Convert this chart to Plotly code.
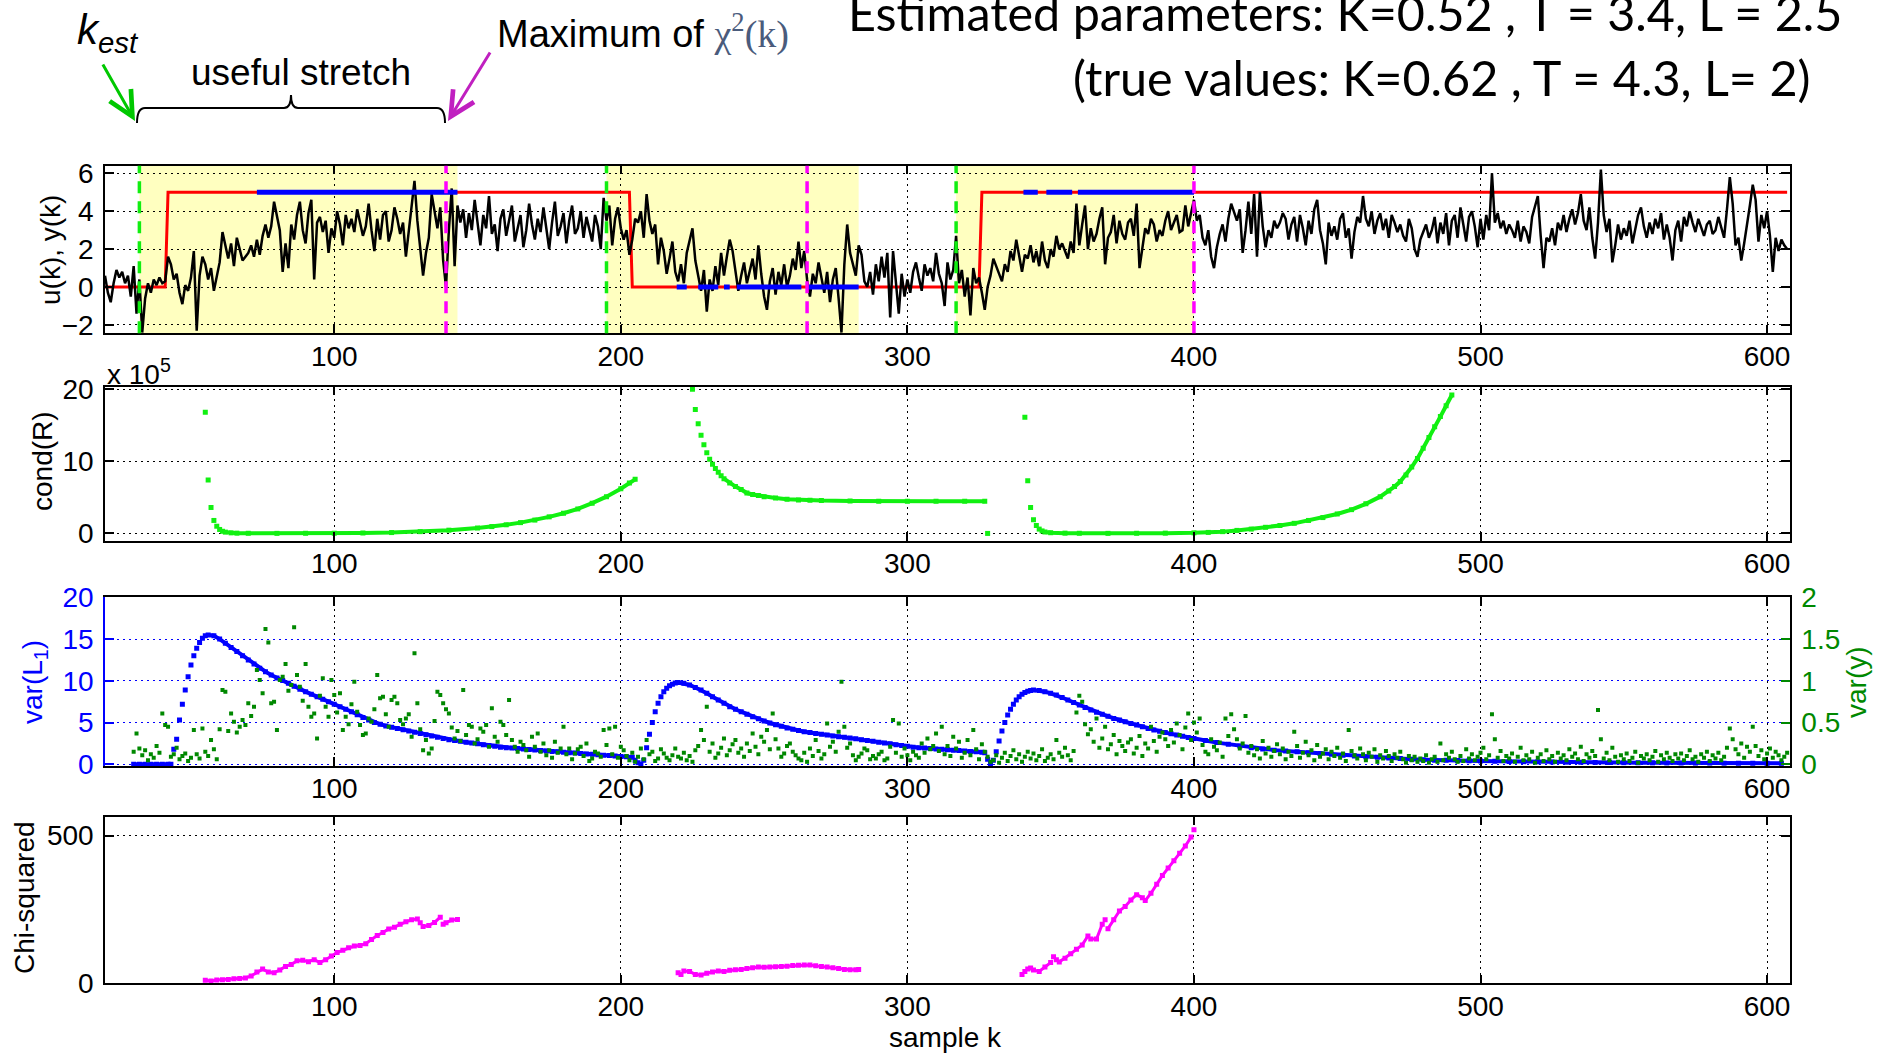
import plotly.graph_objects as go

W, H = 1877, 1054

# ---------------- data ----------------
y_k0 = 20
y_out = [
    0.6, -0.3, -0.8, 0.2, 0.9, 0.5, 0.8, 0.2, 0.6, -0.5,
    1.1, -1.4, 0.4, -2.4, -0.6, 0.2, -0.3, 0.4, 0.1, 0.5,
    0.2, 0.3, 1.6, 1.2, 0.4, 0.7, -0.3, -0.9, 0.1, -0.2,
    0.5, 1.9, -2.3, 0.6, 1.6, 1.2, 0.4, 1.0, -0.2, 0.5,
    1.3, 2.9, 2.2, 1.5, 2.3, 1.1, 2.6, 2.0, 1.4, 1.6,
    1.8, 2.2, 1.6, 2.5, 1.7, 2.7, 3.3, 2.6, 3.2, 4.5,
    3.7, 3.0, 0.8, 2.3, 1.0, 3.3, 2.5, 3.8, 4.5, 3.0,
    2.3, 3.9, 4.6, 0.4, 3.4, 3.7, 2.9, 3.5, 1.8, 3.1,
    2.6, 4.0, 3.3, 2.2, 3.8, 3.1, 3.6, 2.9, 4.1, 3.4,
    2.7, 3.2, 4.4, 3.0, 1.9, 3.6, 2.5, 3.8, 4.0, 2.4,
    3.0, 4.2, 3.6, 2.8, 3.4, 1.6, 3.0, 4.1, 5.6, 3.5,
    2.2, 0.6, 1.8, 2.6, 4.9, 4.0, 3.1, 4.2, 1.4, 0.0,
    3.0, 5.2, 1.1, 4.3, 3.4, 4.1, 2.6, 3.9, 3.0, 4.6,
    3.5, 2.2, 3.8, 3.1, 4.8, 2.8, 3.3, 1.9, 3.6, 4.1,
    2.7, 3.5, 4.3, 2.4, 3.2, 3.8, 2.1, 3.0, 4.4, 3.3,
    2.5, 3.6, 2.9, 4.2, 3.1, 2.0, 3.4, 4.5, 2.7, 3.2,
    3.9, 2.3, 3.5, 4.3, 2.8, 3.1, 4.0, 2.6, 3.7, 3.0,
    2.4, 3.8, 3.2, 2.0, 4.7, 3.5, 4.3, 2.2, 3.6, 4.2,
    3.1, 2.5, 3.0, 1.7, 2.5, 3.6, 3.4, 4.0, 2.6, 4.9,
    3.5, 2.8, 3.3, 1.2, 2.6, 1.9, 0.7, 1.5, 2.4, 0.8,
    0.3, 1.2, 0.2, 1.8, 2.5, 3.1, 1.4, 0.5, -0.2, 0.9,
    -1.3, 0.4, -0.2, 1.1, 0.1, 1.8, 0.6, 1.6, 2.5, 1.9,
    0.8, -0.2, 0.6, 1.3, 0.2, 0.9, 1.5, 0.4, 2.2, 0.7,
    -0.5, -1.2, 0.3, 1.0, -0.4, 0.8, 0.1, 1.2, 0.0, 0.6,
    1.5, 0.9, 2.4, 1.0, 1.9, 0.4, -0.5, 0.7, 0.2, 1.3,
    0.5, -0.3, 0.8, -0.8, 0.4, 1.0, -0.6, -2.4, 1.2, 3.3,
    1.8, 1.2, 0.6, 2.2, 1.7, 0.3, 0.0, 0.8, -0.4, 1.2,
    0.3, 1.6, 0.5, 1.8, -1.6, 1.9, 0.2, -1.4, 0.7, -0.5,
    0.4, -0.3, 0.8, 1.3, 0.5, -0.2, 1.2, 0.6, 1.0, 0.3,
    1.8, 0.7, 0.2, -1.0, 1.3, 0.4, 0.9, 2.7, 0.2, 0.9,
    -0.5, 0.5, -1.5, 1.0, 0.2, 0.5, -0.3, -1.2, 0.0, 0.6,
    1.5, 1.1, 0.8, 0.3, 1.2, 0.8, 1.9, 1.4, 2.5, 1.6,
    0.8, 1.7, 1.5, 2.2, 1.3, 1.9, 1.1, 2.4, 1.4, 1.0,
    2.0, 1.6, 2.7, 2.0, 2.3, 1.9, 1.5, 2.4, 1.8, 4.4,
    2.2, 3.3, 4.3, 2.0, 3.1, 2.4, 2.8, 3.6, 4.2, 1.2,
    2.6, 2.9, 3.8, 2.3, 3.5, 2.8, 2.5, 3.4, 3.6, 2.7,
    4.4, 1.0, 2.2, 3.1, 2.8, 3.6, 3.3, 2.4, 3.0, 2.7,
    3.5, 4.0, 3.0, 3.4, 3.8, 2.9, 3.0, 4.3, 3.2, 3.9,
    4.6, 3.5, 3.8, 2.6, 2.2, 3.0, 1.6, 1.0, 2.1, 2.8,
    3.3, 2.4, 3.6, 4.4, 3.9, 3.5, 4.1, 1.8, 3.0, 4.5,
    2.8, 4.9, 1.6, 5.0, 3.2, 2.1, 3.0, 2.6, 3.5, 3.1,
    3.4, 3.9, 3.6, 2.5, 3.3, 3.7, 2.4, 3.8, 3.1, 2.2,
    3.5, 2.8, 4.1, 4.6, 3.0, 2.3, 1.2, 3.4, 2.7, 3.2,
    2.5, 3.6, 3.9, 2.6, 3.1, 1.5, 2.9, 3.7, 3.4, 4.8,
    3.6, 3.2, 4.0, 2.8, 3.5, 3.9, 3.0, 3.6, 2.6, 3.8,
    3.4, 2.9, 3.3, 2.7, 2.4, 3.6, 3.1, 2.0, 1.6, 2.5,
    2.9, 3.3, 2.6, 3.0, 3.7, 2.3, 3.4, 2.8, 3.9, 2.2,
    3.5, 3.8, 2.6, 4.2, 3.3, 2.4, 3.7, 4.0, 3.2, 2.1,
    3.6, 2.5, 3.8, 3.0, 6.0, 3.4, 3.9, 3.1, 3.5, 2.8,
    3.3, 3.0, 2.6, 3.5, 2.4, 3.2, 2.9, 2.3, 3.7, 4.2,
    4.8, 2.7, 1.0, 2.6, 2.4, 3.1, 2.2, 3.4, 3.0, 3.8,
    2.9, 3.6, 4.1, 3.3, 3.9, 4.9, 3.5, 3.0, 4.2, 2.6,
    1.5, 3.4, 6.2, 3.8, 2.9, 3.6, 1.3, 2.2, 3.3, 2.5,
    3.1, 2.7, 3.5, 2.3, 3.0, 3.8, 4.2, 3.2, 2.6, 3.4,
    2.8, 3.6, 3.1, 3.9, 2.5, 3.3, 2.6, 1.4, 3.0, 3.5,
    2.4, 3.7, 3.2, 4.0, 3.4, 2.9, 3.6, 3.1, 2.7, 3.3,
    3.5, 2.8, 3.0, 3.7, 3.2, 2.6, 4.1, 5.8, 4.4, 2.2,
    2.6, 1.4, 2.3, 3.2, 4.3, 5.4, 4.6, 2.4, 3.8, 3.1,
    4.0, 2.7, 0.8, 2.6, 1.9, 2.5, 2.2, 2.0,
]

u_k = [20, 41, 42, 203, 204, 325, 326, 607]
u_v = [0, 0, 5, 5, 0, 0, 5, 5]

est_start = [73, 219.5, 227, 236, 240.5, 265.5, 340.5, 348.5, 359.5]
est_end = [143, 223, 234, 238, 263, 283, 345.5, 357.5, 400]
est_level = [5, 0, 0, 0, 0, 0, 5, 5, 5]

shade_start = [32, 195, 317]
shade_end = [143, 283, 400]
k_est = [32, 195, 317]
k_chimax = [139, 265, 400]

# cond(R), units of 1e5
cond_k_a = [55, 56, 57, 58, 59, 60, 61, 62, 64, 66, 70, 80, 90, 100, 110, 120, 130, 140, 150, 155,
            160, 165, 170, 175, 180, 185, 190, 195, 200, 203, 205]
cond_v_a = [16.8, 7.4, 3.6, 1.8, 1.0, 0.55, 0.3, 0.18, 0.08, 0.04, 0.02, 0.01, 0.02, 0.03, 0.06, 0.12,
            0.25, 0.45, 0.75, 0.95, 1.2, 1.5, 1.85, 2.3, 2.8, 3.4, 4.2, 5.1, 6.2, 7.0, 7.5]
cond_k_b = [225, 226, 227, 228, 229, 230, 231, 232, 233, 234, 235, 236, 238, 240, 242, 244, 246, 248,
            250, 254, 258, 262, 266, 270, 280, 290, 300, 310, 320, 327]
cond_v_b = [20.0, 17.2, 15.2, 13.6, 12.3, 11.2, 10.3, 9.6, 9.0, 8.5, 8.0, 7.6, 7.0, 6.5, 6.1, 5.6, 5.4,
            5.25, 5.1, 4.9, 4.75, 4.65, 4.6, 4.55, 4.5, 4.45, 4.45, 4.45, 4.45, 4.45]
cond_k_c = [328]
cond_v_c = [0.0]
cond_k_d = [341, 342, 343, 344, 345, 346, 347, 348, 350, 355, 360, 370, 380, 390, 400, 405, 410, 415,
            420, 425, 430, 435, 440, 445, 450, 455, 460, 465, 468, 470, 472, 474, 476, 478, 480, 482,
            484, 486, 488, 490]
cond_v_d = [16.1, 7.3, 3.6, 1.9, 1.1, 0.6, 0.35, 0.2, 0.1, 0.04, 0.02, 0.01, 0.02, 0.04, 0.08, 0.14,
            0.25, 0.42, 0.6, 0.85, 1.1, 1.4, 1.8, 2.2, 2.7, 3.3, 4.1, 5.1, 5.9, 6.5, 7.2, 8.1, 9.2,
            10.4, 11.8, 13.3, 14.8, 16.2, 17.7, 19.2]

# var(L1)
varL_k = [30, 32, 34, 36, 38, 40, 42, 43, 44, 45,
          46, 47, 48, 49, 50, 51, 52, 53, 54, 55,
          56, 58, 60, 62, 64, 66, 68, 70, 72, 74,
          76, 78, 80, 82, 84, 86, 88, 90, 92, 94,
          96, 98, 100, 102, 104, 106, 108, 110, 112, 114,
          116, 118, 120, 122, 124, 126, 128, 130, 132, 134,
          136, 138, 140, 142, 144, 146, 148, 150, 152, 154,
          156, 158, 160, 162, 164, 166, 168, 170, 172, 174,
          176, 178, 180, 182, 184, 186, 188, 190, 192, 194,
          196, 198, 200, 202, 204, 205, 206, 207, 208, 209,
          210, 211, 212, 213, 214, 215, 216, 217, 218, 219,
          220, 222, 224, 226, 228, 230, 232, 234, 236, 238,
          240, 242, 244, 246, 248, 250, 252, 254, 256, 258,
          260, 262, 264, 266, 268, 270, 272, 274, 276, 278,
          280, 282, 284, 286, 288, 290, 292, 294, 296, 298,
          300, 302, 304, 306, 308, 310, 312, 314, 316, 318,
          320, 322, 324, 326, 327, 328, 329, 330, 331, 332,
          333, 334, 335, 336, 337, 338, 339, 340, 341, 342,
          343, 344, 346, 348, 350, 352, 354, 356, 358, 360,
          362, 364, 366, 368, 370, 372, 374, 376, 378, 380,
          382, 384, 386, 388, 390, 392, 394, 396, 398, 400,
          404, 408, 412, 416, 420, 424, 428, 432, 436, 440,
          444, 448, 452, 456, 460, 464, 468, 472, 476, 480,
          484, 488, 492, 496, 500, 505, 510, 515, 520, 525,
          530, 535, 540, 545, 550, 555, 560, 565, 570, 575,
          580, 585, 590, 595, 600, 605]
varL_v = [0, 0, 0, 0, 0, 0, 0, 0, 1.8, 3.0,
          5.3, 7.2, 8.9, 10.5, 11.9, 13.0, 13.9, 14.6, 15.1, 15.4,
          15.5, 15.4, 15.0, 14.5, 14.0, 13.5, 13.0, 12.5, 12.0, 11.5,
          11.1, 10.7, 10.35, 10.05, 9.7, 9.35, 9.0, 8.7, 8.4, 8.1,
          7.8, 7.5, 7.2, 6.9, 6.6, 6.3, 5.95, 5.6, 5.3, 5.0,
          4.8, 4.6, 4.45, 4.3, 4.15, 4.0, 3.85, 3.7, 3.55, 3.4,
          3.25, 3.1, 2.95, 2.85, 2.75, 2.65, 2.55, 2.45, 2.35, 2.25,
          2.15, 2.05, 2.0, 1.95, 1.9, 1.85, 1.78, 1.72, 1.66, 1.6,
          1.55, 1.5, 1.45, 1.4, 1.35, 1.3, 1.25, 1.2, 1.15, 1.1,
          1.05, 1.0, 0.95, 0.9, 0.85, 0.5, 0.2, 0.0, 0.5, 2.0,
          3.6, 5.0, 6.3, 7.3, 8.1, 8.7, 9.1, 9.4, 9.6, 9.75,
          9.8, 9.7, 9.5, 9.2, 8.9, 8.5, 8.1, 7.7, 7.3, 6.9,
          6.6, 6.3, 6.0, 5.7, 5.45, 5.2, 4.95, 4.75, 4.55, 4.35,
          4.2, 4.05, 3.9, 3.8, 3.7, 3.6, 3.5, 3.4, 3.3, 3.25,
          3.15, 3.05, 2.95, 2.85, 2.75, 2.65, 2.55, 2.45, 2.35, 2.25,
          2.15, 2.05, 2.0, 1.95, 1.9, 1.85, 1.8, 1.75, 1.7, 1.65,
          1.6, 1.55, 1.5, 1.45, 1.4, 0.6, 0.1, 0.5, 1.5, 2.8,
          4.0, 5.0, 5.9, 6.6, 7.2, 7.7, 8.1, 8.4, 8.6, 8.75,
          8.85, 8.9, 8.85, 8.7, 8.5, 8.3, 8.0, 7.7, 7.4, 7.1,
          6.8, 6.5, 6.25, 6.0, 5.75, 5.5, 5.3, 5.1, 4.9, 4.7,
          4.5, 4.3, 4.1, 3.95, 3.8, 3.65, 3.5, 3.35, 3.2, 3.1,
          2.85, 2.6, 2.4, 2.2, 2.0, 1.85, 1.7, 1.6, 1.5, 1.4,
          1.3, 1.2, 1.1, 1.0, 0.9, 0.85, 0.75, 0.7, 0.6, 0.55,
          0.5, 0.48, 0.45, 0.42, 0.4, 0.37, 0.34, 0.32, 0.3, 0.28,
          0.26, 0.25, 0.23, 0.22, 0.2, 0.19, 0.18, 0.17, 0.16, 0.15,
          0.15, 0.14, 0.13, 0.13, 0.12, 0.12]

# var(y), one value per sample from k = 30
vary_k0 = 30
var_y = [
    0.15, 0.37, 0.19, 0.11, 0.17, 0.05, 0.12, 0.08, 0.22, 0.14,
    0.61, 0.47, 0.45, 0.09, 0.12, 0.20, 0.06, 0.10, 0.13, 0.04,
    0.08, 0.41, 0.12, 0.07, 0.43, 0.15, 0.10, 0.29, 0.18, 0.06,
    0.42, 0.89, 0.87, 0.40, 0.61, 0.51, 0.38, 0.45, 0.53, 0.47,
    0.73, 0.58, 0.69, 1.13, 1.01, 0.85, 1.62, 1.46, 0.73, 0.75,
    0.41, 1.01, 1.05, 1.20, 0.88, 0.95, 1.64, 1.07, 0.93, 0.76,
    1.20, 0.69, 0.57, 0.61, 0.31, 0.82, 1.03, 0.69, 0.57, 1.01,
    0.83, 0.62, 0.85, 0.41, 0.57, 0.48, 0.72, 0.99, 0.63, 0.47,
    0.35, 0.37, 0.55, 0.51, 0.66, 1.07, 0.79, 0.81, 0.60, 0.45,
    0.77, 0.81, 0.73, 0.53, 0.48, 0.55, 0.60, 0.33, 1.33, 0.73,
    0.42, 0.17, 0.29, 0.13, 0.19, 0.52, 0.87, 0.83, 0.73, 0.66,
    0.61, 0.44, 0.31, 0.40, 0.28, 0.89, 0.35, 0.47, 0.45, 0.25,
    0.30, 0.43, 0.39, 0.47, 0.21, 0.67, 0.33, 0.27, 0.51, 0.47,
    0.35, 0.77, 0.29, 0.21, 0.15, 0.27, 0.23, 0.17, 0.09, 0.33,
    0.21, 0.37, 0.15, 0.25, 0.11, 0.17, 0.08, 0.27, 0.14, 0.19,
    0.45, 0.12, 0.19, 0.06, 0.13, 0.18, 0.21, 0.10, 0.25, 0.04,
    0.07, 0.15, 0.13, 0.09, 0.41, 0.23, 0.43, 0.12, 0.45, 0.08,
    0.21, 0.17, 0.10, 0.05, 0.14, 0.03, 0.09, 0.19, 0.06, 0.29,
    0.12, 0.15, 0.04, 0.07, 0.18, 0.13, 0.08, 0.05, 0.11, 0.19,
    0.09, 0.07, 0.14, 0.05, 0.10, 0.03, 0.17, 0.22, 0.41, 0.29,
    0.69, 0.15, 0.25, 0.08, 0.13, 0.20, 0.31, 0.11, 0.17, 0.24,
    0.29, 0.14, 0.19, 0.09, 0.25, 0.16, 0.37, 0.21, 0.12, 0.33,
    0.27, 0.41, 0.18, 0.61, 0.30, 0.19, 0.09, 0.13, 0.22, 0.25,
    0.15, 0.11, 0.07, 0.05, 0.14, 0.03, 0.19, 0.10, 0.29, 0.16,
    0.07, 0.12, 0.49, 0.21, 0.27, 0.15, 0.39, 0.99, 0.45, 0.20,
    0.25, 0.11, 0.05, 0.09, 0.13, 0.19, 0.17, 0.06, 0.10, 0.07,
    0.12, 0.15, 0.05, 0.07, 0.21, 0.53, 0.14, 0.49, 0.09, 0.19,
    0.11, 0.05, 0.15, 0.11, 0.08, 0.25, 0.14, 0.31, 0.18, 0.22,
    0.37, 0.16, 0.45, 0.12, 0.22, 0.10, 0.33, 0.19, 0.27, 0.08,
    0.14, 0.29, 0.11, 0.41, 0.18, 0.06, 0.24, 0.15, 0.09, 0.03,
    0.05, 0.11, 0.02, 0.08, 0.14, 0.04, 0.10, 0.17, 0.06, 0.12,
    0.03, 0.09, 0.15, 0.07, 0.13, 0.05, 0.10, 0.18, 0.04, 0.08,
    0.12, 0.06, 0.29, 0.14, 0.09, 0.20, 0.11, 0.05, 0.16, 0.62,
    0.82, 0.75, 0.48, 0.36, 0.42, 0.27, 0.55, 0.20, 0.31, 0.45,
    0.18, 0.24, 0.35, 0.12, 0.28, 0.22, 0.16, 0.26, 0.30, 0.13,
    0.20, 0.34, 0.10, 0.25, 0.19, 0.45, 0.28, 0.15, 0.33, 0.38,
    0.30, 0.22, 0.41, 0.26, 0.49, 0.35, 0.18, 0.44, 0.61, 0.29,
    0.50, 0.38, 0.55, 0.23, 0.15, 0.12, 0.30, 0.21, 0.17, 0.26,
    0.09, 0.55, 0.34, 0.60, 0.42, 0.30, 0.19, 0.25, 0.58, 0.14,
    0.22, 0.11, 0.18, 0.07, 0.28, 0.13, 0.20, 0.09, 0.16, 0.24,
    0.12, 0.19, 0.06, 0.15, 0.10, 0.39, 0.22, 0.08, 0.14, 0.27,
    0.11, 0.17, 0.05, 0.23, 0.09, 0.13, 0.18, 0.06, 0.15, 0.10,
    0.20, 0.08, 0.13, 0.04, 0.41, 0.16, 0.11, 0.07, 0.19, 0.12,
    0.05, 0.14, 0.09, 0.18, 0.03, 0.11, 0.07, 0.16, 0.10, 0.04,
    0.12, 0.08, 0.15, 0.06, 0.02, 0.10, 0.05, 0.09, 0.03, 0.07,
    0.04, 0.11, 0.02, 0.06, 0.09, 0.03, 0.25, 0.05, 0.12, 0.08,
    0.15, 0.06, 0.03, 0.10, 0.04, 0.18, 0.07, 0.12, 0.05, 0.09,
    0.14, 0.20, 0.06, 0.11, 0.60, 0.30, 0.08, 0.16, 0.04, 0.10,
    0.07, 0.13, 0.03, 0.09, 0.20, 0.05, 0.11, 0.06, 0.15, 0.02,
    0.08, 0.12, 0.04, 0.17, 0.06, 0.10, 0.03, 0.14, 0.07, 0.11,
    0.05, 0.18, 0.09, 0.13, 0.06, 0.21, 0.04, 0.12, 0.08, 0.16,
    0.10, 0.65, 0.30, 0.07, 0.14, 0.05, 0.20, 0.09, 0.03, 0.11,
    0.06, 0.13, 0.04, 0.08, 0.15, 0.02, 0.10, 0.07, 0.12, 0.05,
    0.09, 0.16, 0.03, 0.11, 0.06, 0.14, 0.08, 0.04, 0.12, 0.07,
    0.13, 0.05, 0.10, 0.17, 0.06, 0.09, 0.03, 0.12, 0.08, 0.15,
    0.04, 0.11, 0.07, 0.14, 0.05, 0.09, 0.20, 0.43, 0.30, 0.18,
    0.12, 0.25, 0.08, 0.21, 0.15, 0.45, 0.22, 0.10, 0.17, 0.06,
    0.13, 0.19, 0.08, 0.15, 0.11, 0.05, 0.09, 0.14,
]

# Chi-squared
chi_k_a = [55, 57, 59, 61, 63, 65, 67, 69, 71, 73, 75, 77, 79, 81, 83, 85, 87, 89, 91, 93, 95, 97, 99,
           101, 103, 105, 107, 109, 111, 113, 115, 117, 119, 121, 123, 125, 127, 129, 130, 131, 133,
           135, 137, 138, 139, 141, 143]
chi_v_a = [10, 8, 11, 12, 13, 15, 16, 18, 25, 38, 48, 38, 36, 45, 57, 64, 76, 78, 73, 80, 70, 80, 92,
           104, 112, 120, 126, 128, 134, 148, 162, 172, 184, 190, 200, 208, 215, 218, 205, 192, 196,
           206, 224, 200, 205, 214, 216]
chi_k_b = [220, 221, 222, 224, 226, 228, 230, 232, 234, 236, 238, 240, 242, 244, 246, 248, 250, 252,
           254, 256, 258, 260, 262, 264, 266, 268, 270, 272, 274, 276, 278, 280, 282, 283]
chi_v_b = [36, 30, 42, 40, 30, 28, 34, 38, 42, 40, 44, 46, 47, 50, 53, 55, 54, 55, 56, 57, 58, 60, 61,
           62, 62, 59, 57, 55, 53, 50, 47, 46, 46, 47]
chi_k_c = [340, 341, 342, 343, 344, 346, 348, 350, 351, 352, 353, 355, 357, 359, 361, 363, 364, 366,
           368, 369, 370, 372, 374, 376, 378, 380, 382, 383, 385, 387, 389, 391, 393, 395, 397, 399, 400]
chi_v_c = [30, 40, 48, 52, 45, 40, 55, 70, 90, 80, 72, 85, 100, 115, 130, 160, 150, 150, 200, 215, 185,
           215, 245, 260, 282, 300, 290, 280, 305, 335, 365, 390, 415, 440, 465, 495, 520]

x_ticks = [100, 200, 300, 400, 500, 600]

# ---------------- helpers ----------------
def bridges(ks, vs):
    """Connect neighbouring points that are more than one sample apart."""
    xs, ys = [], []
    last = None
    for i in range(len(ks) - 1):
        if ks[i + 1] - ks[i] >= 2:
            if last != i:
                if xs:
                    xs.append(None)
                    ys.append(None)
                xs.append(ks[i])
                ys.append(vs[i])
            xs.append(ks[i + 1])
            ys.append(vs[i + 1])
            last = i + 1
    return xs, ys


def px(x):
    return x / W


def py(y):
    return 1 - y / H


TF = "Liberation Sans, Arial, sans-serif"
BLACK = "black"
RED = "#FF0000"
BLUE = "#0000FF"
MAG = "#FF00FF"
LGREEN = "#11F011"
DGREEN = "#008800"

fig = go.Figure()

# ---- panel 1 ----
y_k = list(range(y_k0, y_k0 + len(y_out)))
fig.add_trace(go.Scatter(x=u_k, y=u_v, mode="lines", line=dict(color=RED, width=3),
                         xaxis="x", yaxis="y", hoverinfo="skip"))
fig.add_trace(go.Scatter(x=y_k, y=y_out, mode="lines", line=dict(color=BLACK, width=2.5),
                         xaxis="x", yaxis="y", hoverinfo="skip"))
ex, ey = [], []
for s, e, lv in zip(est_start, est_end, est_level):
    ex += [s, e, None]
    ey += [lv, lv, None]
fig.add_trace(go.Scatter(x=ex, y=ey, mode="lines", line=dict(color=BLUE, width=5),
                         xaxis="x", yaxis="y", hoverinfo="skip"))

# ---- panel 2 ----
for ks, vs in [(cond_k_a, cond_v_a), (cond_k_b, cond_v_b), (cond_k_c, cond_v_c), (cond_k_d, cond_v_d)]:
    bx, by = bridges(ks, vs)
    if bx:
        fig.add_trace(go.Scatter(x=bx, y=by, mode="lines", line=dict(color=LGREEN, width=4),
                                 xaxis="x2", yaxis="y2", hoverinfo="skip"))
    fig.add_trace(go.Scatter(x=ks, y=vs, mode="markers",
                             marker=dict(color=LGREEN, size=5, symbol="square"),
                             xaxis="x2", yaxis="y2", hoverinfo="skip"))

# ---- panel 3 ----
vary_k = list(range(vary_k0, vary_k0 + len(var_y)))
fig.add_trace(go.Scatter(x=vary_k, y=var_y, mode="markers",
                         marker=dict(color=DGREEN, size=4, symbol="square"),
                         xaxis="x3", yaxis="y5", hoverinfo="skip"))
bx, by = bridges(varL_k, varL_v)
fig.add_trace(go.Scatter(x=bx, y=by, mode="lines", line=dict(color=BLUE, width=4),
                         xaxis="x3", yaxis="y3", hoverinfo="skip"))
fig.add_trace(go.Scatter(x=varL_k, y=varL_v, mode="markers",
                         marker=dict(color=BLUE, size=5, symbol="square"),
                         xaxis="x3", yaxis="y3", hoverinfo="skip"))

# ---- panel 4 ----
for ks, vs in [(chi_k_a, chi_v_a), (chi_k_b, chi_v_b), (chi_k_c, chi_v_c)]:
    bx, by = bridges(ks, vs)
    fig.add_trace(go.Scatter(x=bx, y=by, mode="lines", line=dict(color=MAG, width=3),
                             xaxis="x4", yaxis="y4", hoverinfo="skip"))
    fig.add_trace(go.Scatter(x=ks, y=vs, mode="markers",
                             marker=dict(color=MAG, size=5, symbol="square"),
                             xaxis="x4", yaxis="y4", hoverinfo="skip"))

# ---------------- axes ----------------
XD = [px(105), px(1790)]
panels = [(165.7, 333.3), (386.7, 541.0), (597.3, 766.0), (816.7, 983.3)]


def xaxis(i):
    return dict(domain=XD, anchor="y" if i == 1 else f"y{i}", range=[20, 608],
                tickvals=x_ticks, showgrid=True, gridcolor="black", griddash="2px,4px",
                gridwidth=1, showline=True, linecolor="black", linewidth=1.5, mirror="ticks",
                ticks="inside", ticklen=9, tickwidth=1.5, tickcolor="black",
                tickfont=dict(family=TF, size=28, color="black"), zeroline=False,
                ticklabelstandoff=-3, automargin=False)


def yaxis(i, rng, tv, color="black", gridcolor="black", mirror="ticks"):
    top, bot = panels[i - 1]
    return dict(domain=[py(bot), py(top)], anchor="x" if i == 1 else f"x{i}", range=rng,
                tickvals=tv, showgrid=True, gridcolor=gridcolor, griddash="2px,4px", gridwidth=1,
                showline=True, linecolor=color, linewidth=1.5, mirror=mirror, ticks="inside",
                ticklen=9, tickwidth=1.5, tickcolor=color,
                tickfont=dict(family=TF, size=28, color=color), zeroline=False,
                ticklabelstandoff=4, automargin=False)


layout = dict(
    width=W, height=H, margin=dict(l=0, r=0, t=0, b=0, pad=0, autoexpand=False),
    paper_bgcolor="white", plot_bgcolor="white", showlegend=False,
    xaxis=xaxis(1), xaxis2=xaxis(2), xaxis3=xaxis(3), xaxis4=xaxis(4),
    yaxis=yaxis(1, [-2.44, 6.4], [-2, 0, 2, 4, 6]),
    yaxis2=yaxis(2, [-1.05, 20.35], [0, 10, 20]),
    yaxis3=yaxis(3, [-0.2, 20], [0, 5, 10, 15, 20], color=BLUE, gridcolor=BLUE, mirror=False),
    yaxis4=yaxis(4, [0, 564], [0, 500]),
)
top3, bot3 = panels[2]
layout["yaxis5"] = dict(domain=[py(bot3), py(top3)], anchor="x3", overlaying="y3", side="right",
                        range=[-0.02, 2.0], tickvals=[0, 0.5, 1, 1.5, 2],
                        ticktext=["0", "0.5", "1", "1.5", "2"],
                        showgrid=False, showline=True, linecolor="black", linewidth=1.5,
                        ticks="inside", ticklen=9, tickwidth=1.5, tickcolor=DGREEN,
                        tickfont=dict(family=TF, size=28, color=DGREEN), zeroline=False,
                        ticklabelstandoff=4, automargin=False)
fig.update_layout(**layout)

# ---------------- shapes ----------------
shapes = []
for s, e in zip(shade_start, shade_end):
    shapes.append(dict(type="rect", xref="x", yref="y domain", x0=s, x1=e, y0=0, y1=1,
                       fillcolor="#FFFFC0", line=dict(width=0), layer="below"))
for k in k_est:
    shapes.append(dict(type="line", xref="x", yref="y domain", x0=k, x1=k, y0=0, y1=1,
                       line=dict(color="#11EE11", width=3.5, dash="12px,8px"), layer="above"))
for k in k_chimax:
    shapes.append(dict(type="line", xref="x", yref="y domain", x0=k, x1=k, y0=0, y1=1,
                       line=dict(color=MAG, width=3.5, dash="12px,8px"), layer="above"))
# curly brace over the useful stretch
bl, br, bt, bb, bc, bcu = 137, 445, 108, 123, 291, 95
brace = (f"M {px(bl)},{py(bb)} Q {px(bl)},{py(bt)} {px(bl + 8)},{py(bt)} "
         f"L {px(bc - 7)},{py(bt)} Q {px(bc)},{py(bt)} {px(bc)},{py(bcu)} "
         f"Q {px(bc)},{py(bt)} {px(bc + 7)},{py(bt)} "
         f"L {px(br - 8)},{py(bt)} Q {px(br)},{py(bt)} {px(br)},{py(bb)}")
shapes.append(dict(type="path", xref="paper", yref="paper", path=brace,
                   line=dict(color="black", width=2)))
fig.update_layout(shapes=shapes)

# ---------------- annotations ----------------
ann = []


def text(x, y, t, size=28, color="black", angle=0, xanchor="center", yanchor="middle", family=TF):
    ann.append(dict(x=px(x), y=py(y), xref="paper", yref="paper", text=t, showarrow=False,
                    textangle=angle, xanchor=xanchor, yanchor=yanchor,
                    font=dict(family=family, size=size, color=color)))


text(50, 250, "u(k), y(k)", angle=-90)
text(42, 461, "cond(R)", angle=-90)
text(34, 682, "var(L<sub>1</sub>)", angle=-90, color=BLUE)
text(1856, 682, "var(y)", angle=-90, color=DGREEN)
text(24, 898, "Chi-squared", angle=-90)
text(946, 1037, "sample k")
text(105, 372, "x 10<sup>5</sup>", xanchor="left")

text(108, 32, "<i>k<sub>est</sub></i>", size=42)
text(301, 72, "useful stretch", size=37)
text(643, 31, "Maximum of <span style='font-family:Liberation Serif;color:#4a5b7c'>χ<sup>2</sup>(k)</span>",
     size=38)
text(1345, 12, "Estimated parameters: K=0.52 , T = 3.4, L = 2.5", size=48.5,
     family="Lato, Open Sans, sans-serif")
text(1442, 77, "(true values: K=0.62 , T = 4.3, L= 2)", size=48.5,
     family="Lato, Open Sans, sans-serif")

ann.append(dict(x=px(135), y=py(121), xref="paper", yref="paper", ax=-33, ay=-58, text="",
                showarrow=True, arrowhead=5, arrowsize=1.6, arrowwidth=3, arrowcolor="#00C800"))
ann.append(dict(x=px(448), y=py(121), xref="paper", yref="paper", ax=43, ay=-70, text="",
                showarrow=True, arrowhead=5, arrowsize=1.6, arrowwidth=3, arrowcolor="#C020C0"))
fig.update_layout(annotations=ann)

fig.write_html("out.html", config={"displayModeBar": False},
               post_script="document.body.style.margin='0';document.body.style.overflow='hidden';")
